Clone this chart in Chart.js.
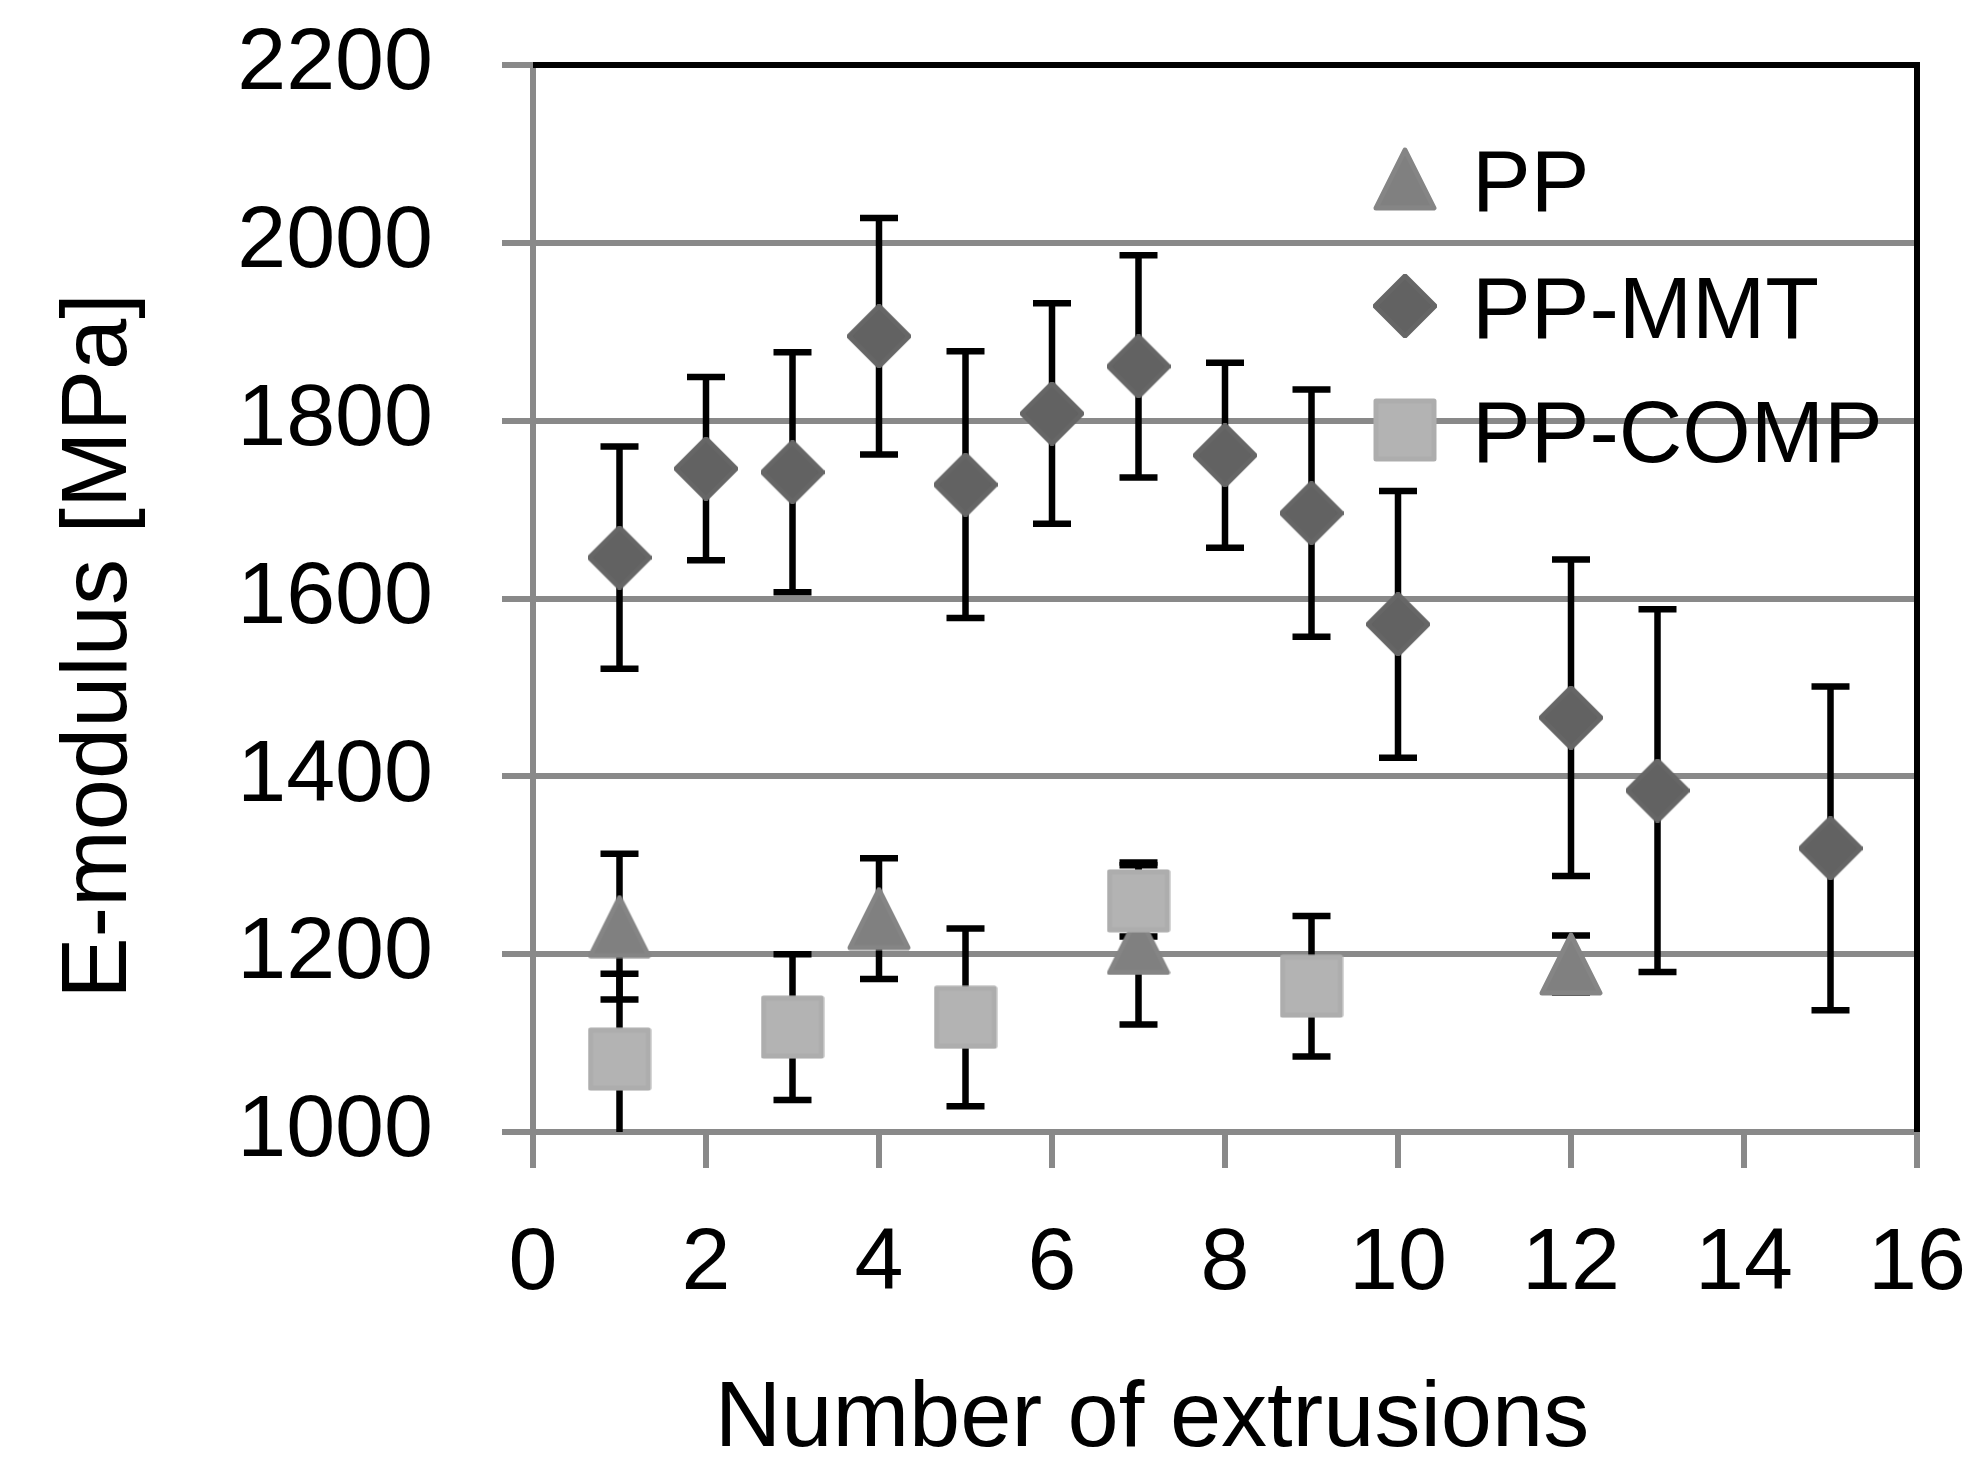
<!DOCTYPE html>
<html>
<head>
<meta charset="utf-8">
<title>E-modulus vs number of extrusions</title>
<script src="https://cdn.jsdelivr.net/npm/chart.js@4.4.1/dist/chart.umd.min.js"></script>
<style>
  html, body { margin: 0; padding: 0; background: #fff; }
  canvas { display: block; }
</style>
</head>
<body>
<canvas id="myChart" width="1971" height="1476"></canvas>
<script>
// data (MPa), error = +/- half bar length
const ppX = [1, 4, 7, 12];
const ppMean = [1231, 1240, 1212, 1189];
const ppErr = [82, 68, 91, 32];

const mmtX = [1, 2, 3, 4, 5, 6, 7, 8, 9, 10, 12, 13, 15];
const mmtMean = [1646, 1746, 1742, 1895, 1728, 1808, 1861, 1761, 1696, 1571, 1466, 1384, 1319];
const mmtErr = [125, 103, 135, 133, 150, 124, 125, 104, 139, 150, 178, 204, 182];

const compX = [1, 3, 5, 7, 9];
const compMean = [1082, 1118, 1129, 1260, 1164];
const compErr = [96, 82, 100, 40, 79];

const seriesNames = ['PP', 'PP-MMT', 'PP-COMP'];
const xTicks = [0, 2, 4, 6, 8, 10, 12, 14, 16];
const yTicks = [1000, 1200, 1400, 1600, 1800, 2000, 2200];
const xTitle = 'Number of extrusions';
const yTitle = 'E-modulus [MPa]';

const FONT = "'Liberation Sans', Arial, sans-serif";
const GRID = '#898989';

// marker images, Excel-like shapes
function marker(kind, fill, edge) {
  const c = document.createElement('canvas');
  c.width = 64; c.height = 64;
  const g = c.getContext('2d');
  g.beginPath();
  if (kind === 'tri') {
    g.moveTo(32, 3); g.lineTo(61, 61); g.lineTo(3, 61);
  } else if (kind === 'dia') {
    g.moveTo(32, 2); g.lineTo(62, 32); g.lineTo(32, 62); g.lineTo(2, 32);
  } else {
    g.rect(3, 3, 58, 58);
  }
  g.closePath();
  g.fillStyle = fill;
  g.fill();
  g.lineJoin = 'round';
  g.lineWidth = 5;
  g.strokeStyle = edge;
  g.stroke();
  return c;
}
const triImg = marker('tri', '#808080', '#858585');
const diaImg = marker('dia', '#626262', '#666666');
const sqImg = marker('sq', '#b3b3b3', '#adadad');

function pts(xs, ys) {
  return xs.map((x, i) => ({ x: x, y: ys[i] }));
}

// keep the tick labels from pushing the plot area around
function noOverflow(s) {
  s.paddingTop = 0;
  s.paddingBottom = 0;
  s.paddingLeft = 0;
  s.paddingRight = 0;
}

const errorBars = {
  id: 'errorBars',
  beforeDatasetsDraw(chart) {
    const { ctx, chartArea, scales: { x, y } } = chart;
    ctx.save();
    // black frame top and right
    ctx.strokeStyle = '#000';
    ctx.lineWidth = 6;
    ctx.beginPath();
    ctx.moveTo(chartArea.left, chartArea.top);
    ctx.lineTo(chartArea.right, chartArea.top);
    ctx.lineTo(chartArea.right, chartArea.bottom);
    ctx.stroke();

    ctx.beginPath();
    ctx.rect(chartArea.left, chartArea.top, chartArea.width, chartArea.height);
    ctx.clip();
    ctx.lineWidth = 6.5;
    chart.data.datasets.forEach(ds => {
      ds.data.forEach((p, i) => {
        const e = ds.errors[i];
        const px = x.getPixelForValue(p.x);
        const top = y.getPixelForValue(p.y + e);
        const bot = y.getPixelForValue(p.y - e);
        ctx.beginPath();
        ctx.moveTo(px, top); ctx.lineTo(px, bot);
        ctx.moveTo(px - 19, top); ctx.lineTo(px + 19, top);
        ctx.moveTo(px - 19, bot); ctx.lineTo(px + 19, bot);
        ctx.stroke();
      });
    });
    ctx.restore();
  },
  afterDraw(chart) {
    const { ctx, chartArea } = chart;
    ctx.save();
    ctx.fillStyle = '#000';
    ctx.font = '92px ' + FONT;
    // axis titles
    ctx.textAlign = 'center';
    ctx.textBaseline = 'alphabetic';
    ctx.fillText(xTitle, 1152, 1446);
    ctx.translate(126, 646);
    ctx.rotate(-Math.PI / 2);
    ctx.fillText(yTitle, 0, 0);
    ctx.restore();

    // legend, inside the plot, no background
    ctx.save();
    ctx.fillStyle = '#000';
    ctx.font = '88px ' + FONT;
    ctx.textAlign = 'left';
    ctx.textBaseline = 'alphabetic';
    const lx = chartArea.right - 512;
    const rows = [179, 306, 430];
    chart.data.datasets.forEach((ds, i) => {
      const img = ds.pointStyle;
      ctx.drawImage(img, lx - 32, rows[i] - 32, 64, 64);
      ctx.fillText(ds.label, lx + 67, rows[i] + 32);
    });
    ctx.restore();
  }
};

const ctx = document.getElementById('myChart').getContext('2d');
const myChart = new Chart(ctx, {
  type: 'scatter',
  data: {
    datasets: [
      {
        label: seriesNames[0],
        data: pts(ppX, ppMean),
        errors: ppErr,
        pointStyle: triImg,
        pointRadius: 32,
        order: 2,
        clip: false
      },
      {
        label: seriesNames[1],
        data: pts(mmtX, mmtMean),
        errors: mmtErr,
        pointStyle: diaImg,
        pointRadius: 32,
        order: 1,
        clip: false
      },
      {
        label: seriesNames[2],
        data: pts(compX, compMean),
        errors: compErr,
        pointStyle: sqImg,
        pointRadius: 32,
        order: 0,
        clip: false
      }
    ]
  },
  options: {
    responsive: false,
    devicePixelRatio: 1,
    animation: false,
    layout: { padding: { left: 0, top: 65, right: 54, bottom: 0 } },
    plugins: {
      legend: { display: false },
      tooltip: { enabled: false }
    },
    scales: {
      x: {
        type: 'linear',
        min: 0,
        max: 16,
        afterBuildTicks: s => { s.ticks = xTicks.map(v => ({ value: v })); },
        afterFit: s => { s.height = 344; noOverflow(s); },
        grid: { drawOnChartArea: false, color: GRID, lineWidth: 6, tickLength: 36 },
        border: { display: true, color: GRID, width: 6 },
        ticks: {
          color: '#000',
          font: { family: FONT, size: 88 },
          padding: 44,
          maxRotation: 0,
          minRotation: 0,
          autoSkip: false,
          callback: v => String(v)
        }
      },
      y: {
        type: 'linear',
        min: 1000,
        max: 2200,
        afterBuildTicks: s => { s.ticks = yTicks.map(v => ({ value: v })); },
        afterFit: s => { s.width = 533; noOverflow(s); },
        grid: { color: GRID, lineWidth: 6, tickLength: 31 },
        border: { display: true, color: GRID, width: 6 },
        ticks: {
          color: '#000',
          font: { family: FONT, size: 88 },
          padding: 69,
          autoSkip: false,
          callback: v => String(v)
        }
      }
    }
  },
  plugins: [errorBars]
});
</script>
</body>
</html>
